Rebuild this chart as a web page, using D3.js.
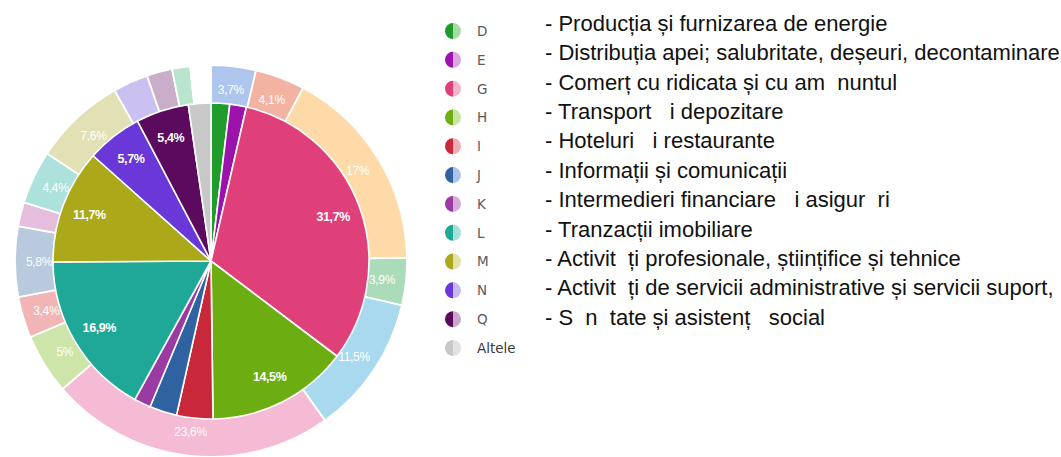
<!DOCTYPE html>
<html>
<head>
<meta charset="utf-8">
<script src="https://cdn.jsdelivr.net/npm/d3@7"></script>
<style>
  html, body { margin: 0; padding: 0; background: #fff; }
  svg { display: block; }
</style>
</head>
<body>
<svg id="chart" width="1061" height="457"></svg>
<script>
// Sector codes shown in the legend and in the inner pie
const sectors = ["D", "E", "G", "H", "I", "J", "K", "L", "M", "N", "Q", "Altele"];

// Inner pie shares (%)
const sectorValues = [1.9, 1.7, 31.7, 14.5, 3.7, 2.8, 1.7, 16.9, 11.7, 5.7, 5.4, 2.3];

// Legend descriptions
const sectorNames = [
  "- Producția și furnizarea de energie",
  "- Distribuția apei; salubritate, deșeuri, decontaminare",
  "- Comerț cu ridicata și cu am  nuntul",
  "- Transport   i depozitare",
  "- Hoteluri   i restaurante",
  "- Informații și comunicații",
  "- Intermedieri financiare   i asigur  ri",
  "- Tranzacții imobiliare",
  "- Activit  ți profesionale, științifice și tehnice",
  "- Activit  ți de servicii administrative și servicii suport,",
  "- S  n  tate și asistenț   social"
];

// Outer ring shares (%)
const ringValues = [3.7, 4.1, 17, 3.9, 11.5, 23.6, 5, 3.4, 5.8, 2.0, 4.4, 7.6, 2.9, 2.1, 1.5, 1.7];

// Palettes
const darkColors = ["#1f9c2c", "#9b12ad", "#e0407a", "#6cad12", "#c9283a", "#2f62a0",
                    "#9b3aa3", "#1fa898", "#aba819", "#6a38d8", "#5c0a5e", "#c8c8c8"];
const lightColors = ["#a6dba4", "#d9a5e3", "#f4b4c9", "#c9e3a0", "#f0aeb0", "#aec4e6",
                     "#d5acd9", "#a5e0d9", "#e2e2ad", "#c5bbf2", "#c8a9c8", "#e2e2e2"];
const ringColors = ["#aec6ee", "#f2b3a3", "#fddaa8", "#aadcb9", "#a9d9ee", "#f5bbd4",
                    "#cde5a9", "#f1b5b6", "#b9c9de", "#e5bddd", "#ade1dc", "#e1e1b5",
                    "#cbc1f1", "#c9adc9", "#b9e5cd", "#ffffff"];

const fmtPct = v => (Number.isInteger(v) ? String(v) : v.toFixed(1).replace(".", ",")) + "%";

const svg = d3.select("#chart");
const cx = 211, cy = 261;
const g = svg.append("g").attr("transform", `translate(${cx},${cy})`);

const pie = d3.pie().sort(null).value(d => d);

// ---- outer ring (drawn first, the pie overlaps its inner part)
const ringArc = d3.arc().innerRadius(148).outerRadius(196);
const ringData = pie(ringValues);
const ringColor = d3.scaleOrdinal().domain(d3.range(ringValues.length)).range(ringColors);

g.append("g").selectAll("path")
  .data(ringData)
  .join("path")
  .attr("d", ringArc)
  .attr("fill", (d, i) => ringColor(i))
  .attr("stroke", "#fff")
  .attr("stroke-width", 1.8);

g.append("g").selectAll("text")
  .data(ringData.filter(d => d.data >= 3))
  .join("text")
  .attr("transform", d => `translate(${ringArc.centroid(d)})`)
  .attr("text-anchor", "middle")
  .attr("dy", "0.35em")
  .attr("font-family", "Liberation Sans, Arial, sans-serif")
  .attr("font-size", 12)
  .attr("letter-spacing", -0.3)
  .attr("fill", "#fff")
  .text(d => fmtPct(d.data));

// ---- inner pie
const innerArc = d3.arc().innerRadius(0).outerRadius(158);
const labelArc = d3.arc().innerRadius(130).outerRadius(130);
const sectorData = pie(sectorValues);
const darkScale = d3.scaleOrdinal().domain(sectors).range(darkColors);
const lightScale = d3.scaleOrdinal().domain(sectors).range(lightColors);

g.append("g").selectAll("path")
  .data(sectorData)
  .join("path")
  .attr("d", innerArc)
  .attr("fill", (d, i) => darkScale(sectors[i]))
  .attr("stroke", "#fff")
  .attr("stroke-width", 1.6)
  .attr("stroke-linejoin", "round");

g.append("g").selectAll("text")
  .data(sectorData.filter(d => d.data >= 5))
  .join("text")
  .attr("transform", d => `translate(${labelArc.centroid(d)})`)
  .attr("text-anchor", "middle")
  .attr("dy", "0.35em")
  .attr("font-family", "Liberation Sans, Arial, sans-serif")
  .attr("font-weight", "bold")
  .attr("font-size", 12.5)
  .attr("letter-spacing", -0.4)
  .attr("fill", "#fff")
  .text(d => fmtPct(d.data));

// ---- legend: codes with split swatches
const iconY = d3.scalePoint().domain(sectors).range([31, 348]);
const legend = svg.append("g");
const half = d3.arc().innerRadius(0).outerRadius(8);

const rows = legend.selectAll("g.row")
  .data(sectors)
  .join("g")
  .attr("class", "row")
  .attr("transform", d => `translate(453,${iconY(d)})`);

rows.append("path")
  .attr("d", half({ startAngle: Math.PI, endAngle: 2 * Math.PI }))
  .attr("fill", d => darkScale(d));
rows.append("path")
  .attr("d", half({ startAngle: 0, endAngle: Math.PI }))
  .attr("fill", d => lightScale(d));
rows.append("text")
  .attr("x", 24)
  .attr("dy", "0.36em")
  .attr("font-family", "DejaVu Sans, sans-serif")
  .attr("font-size", 13.5)
  .attr("fill", d => d === "Altele" ? "#3a3a3a" : "#5a5a5a")
  .text(d => d);

// ---- legend: descriptions
const textY = d3.scalePoint().domain(d3.range(sectorNames.length)).range([23, 317]);
legend.append("g").selectAll("text")
  .data(sectorNames)
  .join("text")
  .attr("x", 545)
  .attr("y", (d, i) => textY(i))
  .attr("dy", "0.35em")
  .attr("font-family", "Liberation Sans, Arial, sans-serif")
  .attr("font-size", 22)
  .attr("fill", "#111")
  .style("white-space", "pre")
  .text(d => d);
</script>
</body>
</html>
